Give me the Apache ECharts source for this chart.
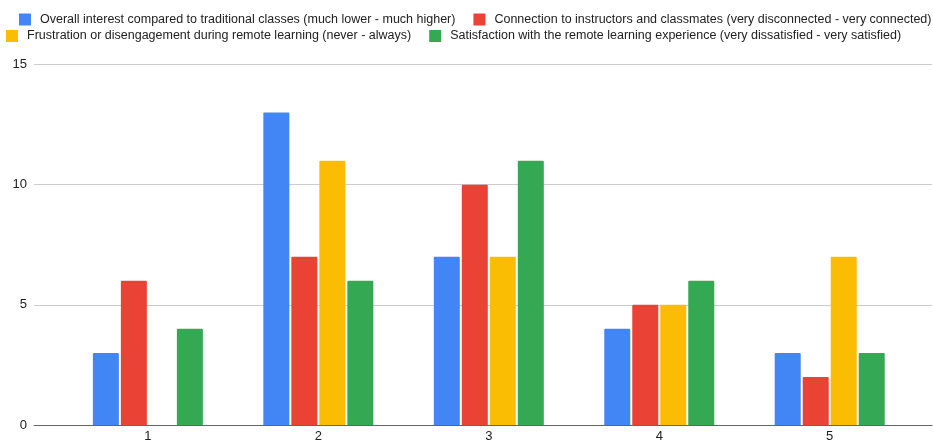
<!DOCTYPE html>
<html>
<head>
<meta charset="utf-8">
<script src="https://cdn.jsdelivr.net/npm/echarts@6/dist/echarts.min.js"></script>
<style>
  html, body { margin: 0; padding: 0; background: #fff; }
  #main { width: 933px; height: 443px; }
</style>
</head>
<body>
<div id="main"></div>
<script>
// ratings 1..5
var categories = [1, 2, 3, 4, 5];
var seriesNames = [
    'Overall interest compared to traditional classes (much lower - much higher)',
    'Connection to instructors and classmates (very disconnected - very connected)',
    'Frustration or disengagement during remote learning (never - always)',
    'Satisfaction with the remote learning experience (very dissatisfied - very satisfied)'
];
var interest = [3, 13, 7, 4, 3];
var connection = [6, 7, 10, 5, 2];
var frustration = [0, 11, 7, 5, 7];
var satisfaction = [4, 6, 11, 6, 3];
var colors = ['#4285F4', '#EA4335', '#FBBC04', '#34A853'];

var values = [interest, connection, frustration, satisfaction];

var myChart = echarts.init(document.getElementById('main'));

var font = 'Arial, "Liberation Sans", sans-serif';
var legendText = {
    fontFamily: font,
    fontSize: 12.5,
    color: '#222',
    padding: [0, 0, 0, 4]
};

var option = {
    animation: false,
    color: colors,
    legend: [{
        data: [seriesNames[0], seriesNames[1]],
        orient: 'horizontal',
        top: 13, left: 19, width: 1100, padding: 0,
        icon: 'rect', itemWidth: 12, itemHeight: 12, itemGap: 18,
        textStyle: legendText
    }, {
        data: [seriesNames[2], seriesNames[3]],
        orient: 'horizontal',
        top: 29.5, left: 6, width: 1100, padding: 0,
        icon: 'rect', itemWidth: 12, itemHeight: 12, itemGap: 18,
        textStyle: legendText
    }],
    grid: { left: 34, right: 1, top: 64.5, bottom: 15 },
    xAxis: {
        type: 'value',
        min: 0.332,
        max: 5.6,
        splitLine: { show: false },
        axisTick: { show: false },
        axisLine: { show: true, lineStyle: { color: '#666', width: 1 } },
        axisLabel: {
            customValues: categories,
            color: '#222',
            fontSize: 13,
            fontFamily: font,
            margin: 5
        }
    },
    yAxis: {
        type: 'value',
        min: 0, max: 15, interval: 5,
        axisLine: { show: false },
        axisTick: { show: false },
        splitLine: { lineStyle: { color: '#ccc' } },
        axisLabel: {
            color: '#222',
            fontSize: 13,
            fontFamily: font,
            margin: 7
        }
    },
    series: seriesNames.map(function (name, i) {
        return {
            name: name,
            type: 'bar',
            barWidth: 26,
            barGap: '7.7%',
            itemStyle: { borderRadius: [1, 1, 0, 0] },
            data: categories.map(function (c, j) { return [c, values[i][j]]; })
        };
    })
};

myChart.setOption(option);
</script>
</body>
</html>
